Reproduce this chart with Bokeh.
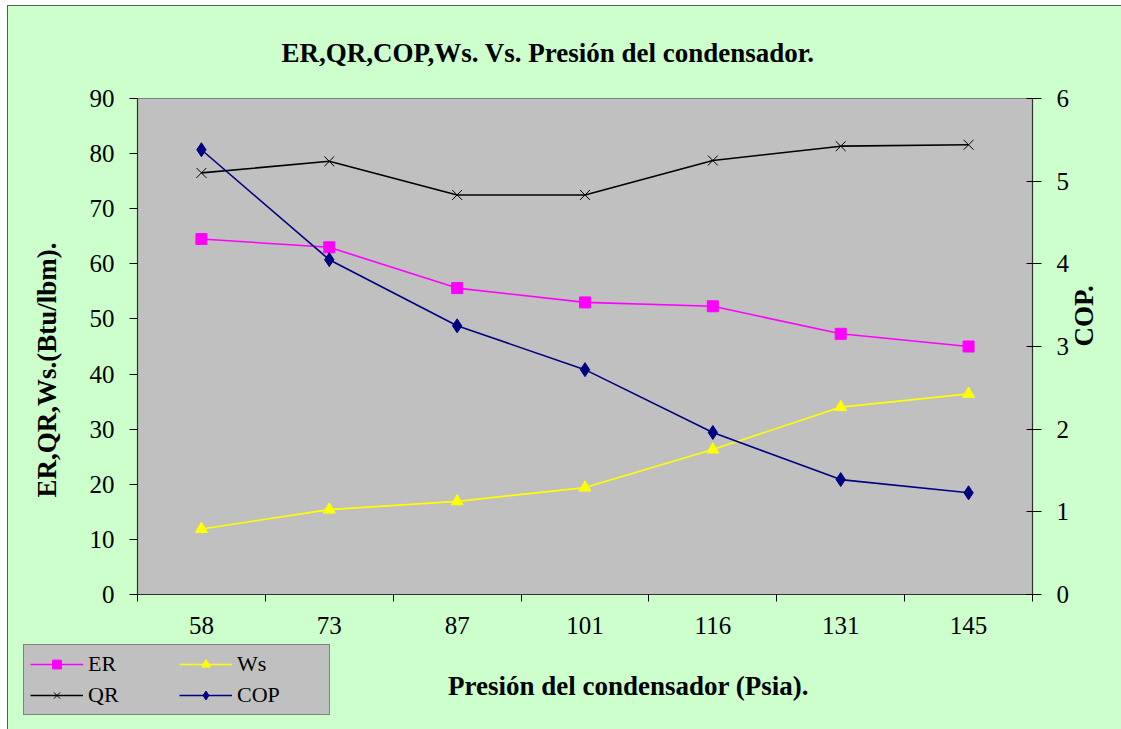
import math

from bokeh.plotting import figure
from bokeh.layouts import column, row
from bokeh.models import Range1d, LinearAxis, FixedTicker, Legend, LegendItem, Title, Label
from bokeh.embed import file_html
from bokeh.resources import INLINE

# Condenser pressure (Psia) and the four performance quantities
pressures = ["58", "73", "87", "101", "116", "131", "145"]
er = [64.5, 63.0, 55.6, 53.0, 52.3, 47.3, 45.0]   # refrigerating effect, Btu/lbm
qr = [76.5, 78.6, 72.5, 72.5, 78.75, 81.35, 81.6]  # heat rejected, Btu/lbm
ws = [11.9, 15.4, 16.9, 19.4, 26.3, 34.0, 36.4]    # compressor work, Btu/lbm
cop = [5.38, 4.05, 3.25, 2.72, 1.96, 1.39, 1.23]   # coefficient of performance

left_ticks = list(range(0, 91, 10))
right_ticks = list(range(0, 7))

xs = list(range(len(pressures)))
SERIF = "Liberation Serif"
GREEN = "#CCFFCC"
TICK_SIZE = "25px"
TITLE_SIZE = "27px"

# series: label, values, colour, marker, marker size, right-hand scale?
series = [
    ("ER", er, "#FF00FF", "square", 11, False),
    ("QR", qr, "black", "x", 14, False),
    ("Ws", ws, "#FFFF00", "triangle", 12, False),
    ("COP", cop, "#000080", "diamond", 14, True),
]

p = figure(width=1113, height=632,
           x_range=Range1d(-0.5, len(pressures) - 0.5), y_range=Range1d(0, 90),
           output_backend="svg", toolbar_location=None,
           min_border_left=129, min_border_right=89,
           min_border_top=92, min_border_bottom=44,
           background_fill_color="#C0C0C0", border_fill_color=GREEN,
           outline_line_color="#808080")
p.xgrid.visible = False
p.ygrid.visible = False

# chart title
p.title.text = "ER,QR,COP,Ws. Vs. Presión del condensador."
p.title.text_font = SERIF
p.title.text_font_style = "bold"
p.title.text_font_size = TITLE_SIZE
p.title.text_color = "black"
p.title.align = "left"
p.title.offset = 144
p.title.vertical_align = "middle"
p.title.standoff = 60

p.extra_y_ranges = {"cop": Range1d(0, 6)}

# x axis: labels at category centres, tick marks at the category boundaries
xax = p.xaxis[0]
xax.ticker = FixedTicker(ticks=xs, minor_ticks=[i - 0.5 for i in range(len(pressures) + 1)])
xax.major_label_overrides = {i: lbl for i, lbl in zip(xs, pressures)}
xax.major_tick_line_color = None
xax.major_tick_out = 0
xax.major_tick_in = 0
xax.minor_tick_out = 7
xax.minor_tick_in = 0
xax.minor_tick_line_color = "black"
xax.major_label_standoff = 15

yax = p.yaxis[0]
yax.ticker = FixedTicker(ticks=left_ticks)
yax.major_tick_out = 8
yax.major_tick_in = 0
yax.minor_tick_line_color = None
yax.major_label_standoff = 15

rax = LinearAxis(y_range_name="cop", ticker=FixedTicker(ticks=right_ticks))
rax.major_tick_out = 9
rax.major_tick_in = 6
rax.minor_tick_line_color = None
rax.major_label_standoff = 15
rax.axis_label = "COP."
rax.axis_label_orientation = math.pi / 2
rax.axis_label_standoff = 12
rax.axis_label_text_font = SERIF
rax.axis_label_text_font_style = "bold"
rax.axis_label_text_font_size = TITLE_SIZE
rax.axis_label_text_color = "black"
p.add_layout(rax, "right")

for ax in (xax, yax, rax):
    ax.axis_line_color = "#303030"
    ax.axis_line_width = 1.2
    ax.major_label_text_font = SERIF
    ax.major_label_text_font_size = TICK_SIZE
    ax.major_label_text_color = "black"

# left axis title
p.add_layout(Title(text="ER,QR,Ws.(Btu/lbm).", align="left", offset=97,
                   vertical_align="top", standoff=46, text_color="black",
                   text_font=SERIF, text_font_style="bold", text_font_size=TITLE_SIZE),
             "left")

for lbl, vals, col, mk, sz, right in series:
    extra = {"y_range_name": "cop"} if right else {}
    p.line(xs, vals, color=col, line_width=1.6, **extra)
    p.scatter(xs, vals, marker=mk, size=sz, color=col, line_width=1.0, **extra)

# bottom strip: legend and x axis title (its data ranges lie away from the series,
# so only the legend samples of the series appear here)
STRIP_W, STRIP_H = 1113, 91
strip = figure(width=STRIP_W, height=STRIP_H, x_range=Range1d(-100, -90),
               y_range=Range1d(-100, -90),
               output_backend="svg", toolbar_location=None,
               x_axis_location=None, y_axis_location=None,
               min_border=0, background_fill_color=GREEN, border_fill_color=GREEN,
               outline_line_color=None)
strip.xgrid.visible = False
strip.ygrid.visible = False
# pixel-like ranges for placing the axis title (y measured from the top)
strip.extra_x_ranges = {"px": Range1d(0, STRIP_W)}
strip.extra_y_ranges = {"px": Range1d(STRIP_H, 0)}

items = []
for lbl, vals, col, mk, sz, right in series:
    ln = strip.line(xs, vals, color=col, line_width=1.6)
    sc = strip.scatter(xs, vals, marker=mk, size=sz, color=col, line_width=1.0)
    items.append(LegendItem(label=lbl, renderers=[ln, sc]))

legend = Legend(items=items, nrows=2, location=(15, 14))
legend.background_fill_color = "#C0C0C0"
legend.background_fill_alpha = 1.0
legend.border_line_color = "#404040"
legend.border_line_width = 1.2
legend.label_text_font = SERIF
legend.label_text_font_size = "22px"
legend.label_text_color = "black"
legend.glyph_width = 53
legend.glyph_height = 22
legend.label_height = 22
legend.label_width = 86
legend.label_standoff = 5
legend.padding = 6
legend.spacing = 5
legend.margin = 0
strip.add_layout(legend)

strip.add_layout(Label(x=620, y=47, x_range_name="px", y_range_name="px",
                       text="Presión del condensador (Psia).",
                       text_align="center", text_baseline="middle",
                       text_font=SERIF, text_font_style="bold", text_font_size=TITLE_SIZE,
                       text_color="black"))

page = column(p, row(strip), spacing=0, margin=(5, 0, 0, 7),
              styles={"border-left": "1px solid #5a5a5a", "border-top": "1px solid #5a5a5a",
                      "background-color": GREEN})

open("out.html", "w").write(file_html(page, INLINE))
